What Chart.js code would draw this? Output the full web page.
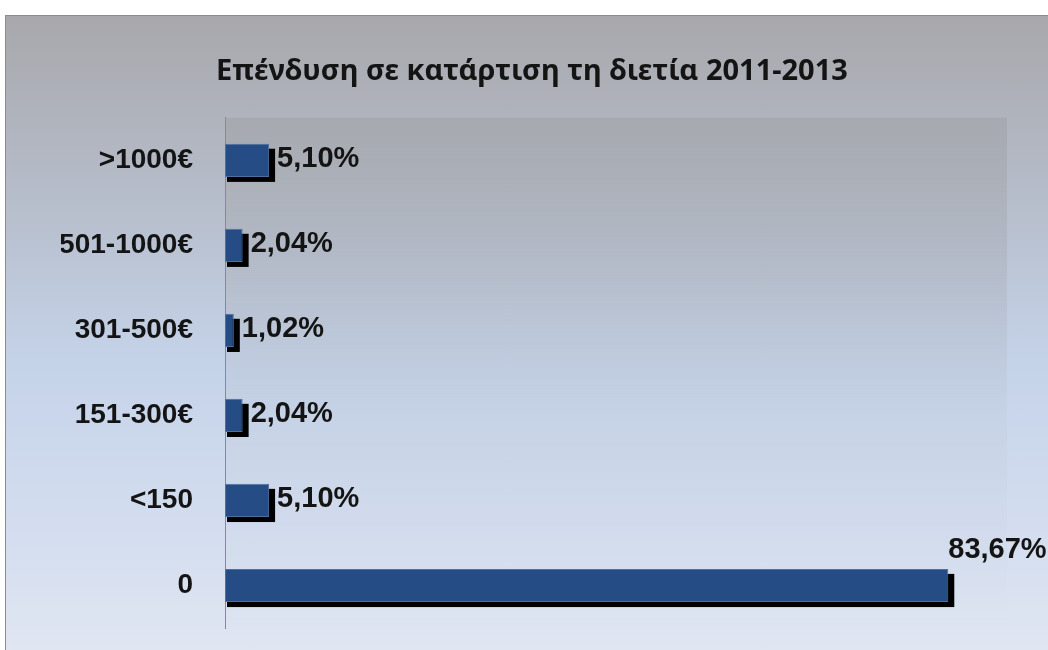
<!DOCTYPE html>
<html>
<head>
<meta charset="utf-8">
<script src="https://cdn.jsdelivr.net/npm/chart.js@4.4.1/dist/chart.umd.min.js"></script>
<style>
  html, body { margin: 0; padding: 0; background: #fff; }
  #box {
    position: absolute; left: 5px; top: 15px; width: 1043px; height: 635px;
    border-left: 1px solid #8c8c8c; border-top: 1px solid #8c8c8c;
    background: linear-gradient(to bottom, #a8a8ac 0%, #b4bac6 25%, #c5d3e9 55%, #d3ddef 80%, #e0e6f2 100%);
  }
</style>
</head>
<body>
<div id="box"><canvas id="chart" width="1043" height="635"></canvas></div>
<script>
const chartTitle = "Επένδυση σε κατάρτιση τη διετία 2011-2013";
const categories = [">1000€", "501-1000€", "301-500€", "151-300€", "<150", "0"];
const shares = [5.10, 2.04, 1.02, 2.04, 5.10, 83.67];
const valueLabels = ["5,10%", "2,04%", "1,02%", "2,04%", "5,10%", "83,67%"];

// darker band behind the plot area, fading out downwards
const plotShade = {
  id: "plotShade",
  beforeDraw(chart) {
    const { ctx, chartArea: a } = chart;
    const g = ctx.createLinearGradient(0, a.top, 0, a.bottom);
    g.addColorStop(0, "rgba(150,150,150,0.35)");
    g.addColorStop(0.6, "rgba(150,150,150,0.05)");
    g.addColorStop(1, "rgba(150,150,150,0)");
    ctx.save();
    ctx.fillStyle = g;
    ctx.fillRect(a.left, a.top, a.right - a.left + 4, a.bottom - a.top);
    ctx.restore();
  }
};

// hard black drop shadow behind each bar
const barShadow = {
  id: "barShadow",
  beforeDatasetsDraw(chart) {
    const ctx = chart.ctx;
    const meta = chart.getDatasetMeta(0);
    ctx.save();
    ctx.fillStyle = "#000";
    meta.data.forEach(bar => {
      const h = bar.height;
      ctx.fillRect(bar.base + 2, bar.y - h / 2 + 5, bar.x - bar.base + 4, h);
    });
    ctx.restore();
  }
};

// value labels next to bars
const valueText = {
  id: "valueText",
  afterDraw(chart) {
    const { ctx, chartArea: a } = chart;
    const meta = chart.getDatasetMeta(0);
    ctx.save();
    ctx.font = "bold 29px 'Liberation Sans', Arial, sans-serif";
    ctx.fillStyle = "#141414";
    ctx.textBaseline = "middle";
    meta.data.forEach((bar, i) => {
      const txt = valueLabels[i];
      const w = ctx.measureText(txt).width;
      if (bar.x + 8 + w > a.right) {
        ctx.fillText(txt, bar.x, bar.y - bar.height / 2 - 19);
      } else {
        ctx.fillText(txt, bar.x + 8, bar.y - 1);
      }
    });
    ctx.restore();
  }
};

new Chart(document.getElementById("chart"), {
  type: "bar",
  data: {
    labels: categories,
    datasets: [
      {
        data: shares,
        backgroundColor: "#254c84",
        borderColor: "#4f6f9e",
        borderWidth: 1,
        borderSkipped: false,
        barPercentage: 0.39,
        categoryPercentage: 1
      }
    ]
  },
  options: {
    indexAxis: "y",
    responsive: false,
    animation: false,
    layout: {
      padding: { left: 55, right: 46, top: 0, bottom: 23 }
    },
    plugins: {
      legend: { display: false },
      tooltip: { enabled: false },
      title: {
        display: true,
        text: chartTitle,
        color: "#141414",
        font: { family: "'Noto Sans', sans-serif", size: 29, weight: "bold", lineHeight: 1.2 },
        padding: { top: 38, bottom: 29 }
      }
    },
    scales: {
      x: {
        display: false,
        min: 0,
        max: 90
      },
      y: {
        grid: { display: false },
        border: { display: true, color: "#8a8a8a", width: 1 },
        ticks: {
          color: "#141414",
          padding: 24,
          font: { family: "'Liberation Sans', Arial, sans-serif", size: 28, weight: "bold" }
        },
        afterFit(scale) {
          scale.width = 164;
          scale.paddingTop = 0;
          scale.paddingBottom = 0;
        }
      }
    }
  },
  plugins: [plotShade, barShadow, valueText]
});
</script>
</body>
</html>
